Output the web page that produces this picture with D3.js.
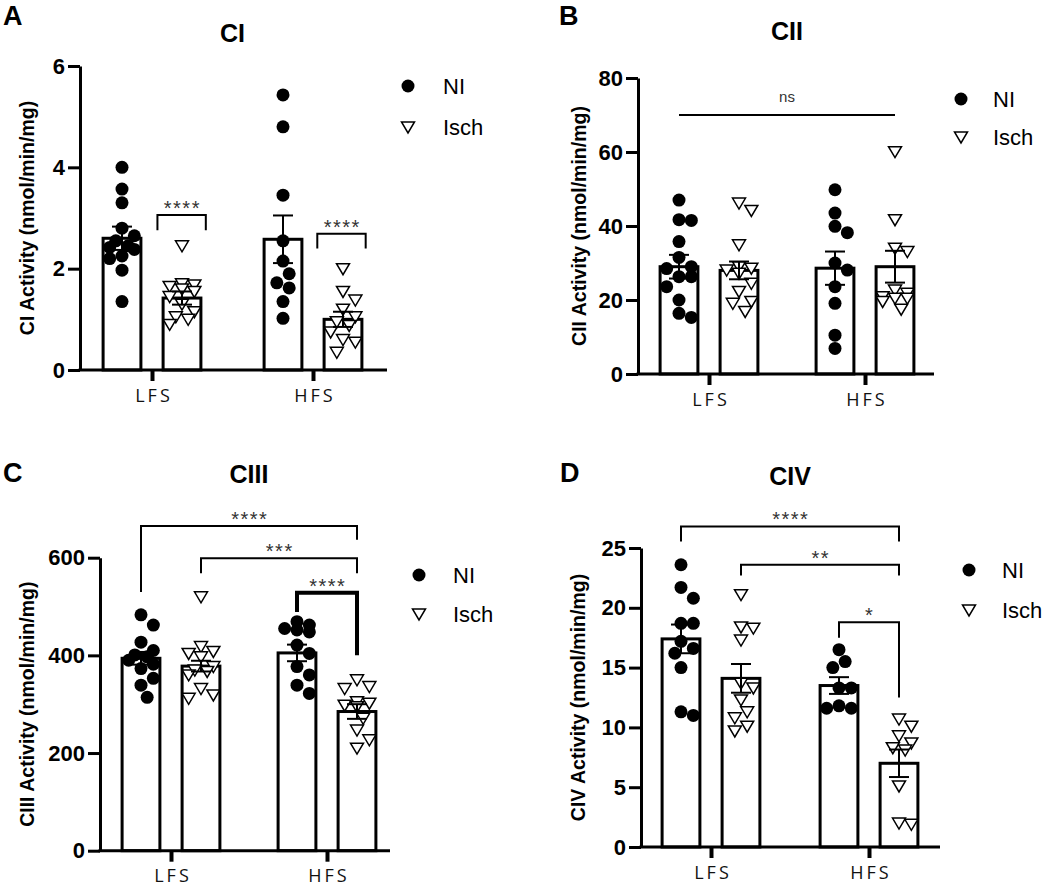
<!DOCTYPE html>
<html><head><meta charset="utf-8">
<script src="https://cdn.jsdelivr.net/npm/d3@7"></script>
<style>body{margin:0;background:#fff}svg{display:block}</style>
</head><body>
<svg id="chart" width="1050" height="886"></svg>
<script>
const groups = ["LFS", "HFS"];
const seriesNames = ["NI", "Isch"];

// ---- Panel A : CI ----
const ciTicks = [0, 2, 4, 6];
const ciMean = [[2.60, 1.42], [2.58, 1.00]];
const ciSem = [[0.23, 0.13], [0.47, 0.15]];
const ciLfsNI = [4.00, 3.57, 3.30, 2.80, 2.65, 2.55, 2.45, 2.42, 2.38, 2.25, 2.20, 1.97, 1.35];
const ciLfsIsch = [2.45, 1.70, 1.68, 1.65, 1.60, 1.55, 1.45, 1.30, 1.15, 1.05, 1.00, 0.90];
const ciHfsNI = [5.43, 4.80, 3.45, 2.55, 2.15, 1.90, 1.72, 1.62, 1.35, 1.02];
const ciHfsIsch = [2.00, 1.55, 1.38, 1.20, 1.05, 0.95, 0.88, 0.75, 0.60, 0.55, 0.35];
const ciComparisons = [
  {from: ["LFS", "Isch", -0.65], to: ["LFS", "Isch", 0.63], y: 3.06, legFrom: 2.76, legTo: 2.76, label: "****"},
  {from: ["HFS", "Isch", -0.68], to: ["HFS", "Isch", 0.60], y: 2.69, legFrom: 2.40, legTo: 2.40, label: "****"}
];

// ---- Panel B : CII ----
const ciiTicks = [0, 20, 40, 60, 80];
const ciiMean = [[29.0, 28.0], [28.6, 29.0]];
const ciiSem = [[3.2, 2.4], [4.5, 4.3]];
const ciiLfsNI = [47.0, 41.7, 41.5, 35.8, 31.5, 29.0, 28.5, 26.3, 26.3, 23.6, 20.0, 16.4, 15.3];
const ciiLfsIsch = [46.2, 44.2, 34.9, 29.0, 28.6, 28.1, 27.2, 24.5, 22.3, 19.6, 19.1, 16.9];
const ciiHfsNI = [49.8, 43.5, 39.9, 38.2, 30.0, 28.1, 23.6, 19.1, 10.5, 6.9];
const ciiHfsIsch = [60.1, 41.7, 34.0, 33.1, 22.7, 21.8, 20.9, 20.5, 20.5, 19.6, 17.5];
const ciiComparisons = [
  {from: ["LFS", "NI", 0], to: ["HFS", "Isch", 0], y: 70, legFrom: 70, legTo: 70, label: "ns"}
];

// ---- Panel C : CIII ----
const ciiiTicks = [0, 200, 400, 600];
const ciiiMean = [[394, 378], [405, 285]];
const ciiiSem = [[13, 11], [17, 15]];
const ciiiLfsNI = [483, 462, 427, 410, 401, 397, 390, 382, 373, 353, 339, 314];
const ciiiLfsIsch = [520, 418, 408, 404, 397, 377, 370, 367, 360, 332, 319, 312];
const ciiiHfsNI = [469, 462, 455, 452, 448, 421, 404, 377, 360, 339, 322];
const ciiiHfsIsch = [350, 336, 332, 305, 302, 298, 295, 271, 247, 227, 210];
const ciiiComparisons = [
  {from: ["LFS", "NI", 0], to: ["HFS", "Isch", 0], y: 665, legFrom: 530, legTo: 637, label: "****"},
  {from: ["LFS", "Isch", 0], to: ["HFS", "Isch", 0], y: 599, legFrom: 568, legTo: 568, label: "***"},
  {from: ["HFS", "NI", 0], to: ["HFS", "Isch", 0], y: 528, legFrom: 489, legTo: 400, label: "****", heavy: true}
];

// ---- Panel D : CIV ----
const civTicks = [0, 5, 10, 15, 20, 25];
const civMean = [[17.4, 14.1], [13.5, 7.0]];
const civSem = [[1.2, 1.2], [0.7, 1.15]];
const civLfsNI = [23.6, 21.7, 20.8, 18.7, 18.7, 17.2, 16.6, 16.2, 15.0, 11.3, 11.0];
const civLfsIsch = [21.1, 18.4, 18.3, 17.3, 13.7, 13.3, 12.3, 11.3, 10.8, 10.1, 9.7];
const civHfsNI = [16.5, 15.5, 15.0, 13.3, 13.3, 11.8, 11.6, 11.6];
const civHfsIsch = [10.7, 10.1, 9.3, 8.7, 8.3, 8.1, 5.1, 2.0, 1.9];
const civComparisons = [
  {from: ["LFS", "NI", 0], to: ["HFS", "Isch", 0], y: 26.8, legFrom: 25.55, legTo: 25.55, label: "****"},
  {from: ["LFS", "Isch", 0], to: ["HFS", "Isch", 0], y: 23.6, legFrom: 22.7, legTo: 22.7, label: "**"},
  {from: ["HFS", "NI", 0], to: ["HFS", "Isch", 0], y: 18.8, legFrom: 17.5, legTo: 12.5, label: "*"}
];

const panels = [
  {letter: "A", title: "CI", ylabel: "CI Activity (nmol/min/mg)", ticks: ciTicks, mean: ciMean, sem: ciSem,
   points: [[ciLfsNI, ciLfsIsch], [ciHfsNI, ciHfsIsch]], comps: ciComparisons,
   L: {ax: 80, yTop: 66, yBot: 370, g0: 152, g1: 313, xEnd: 387, labX: 29, titleY: 42, letX: 3, letY: 25, legX: 408, legY: 86, legDy: 41, legTx: 443}},
  {letter: "B", title: "CII", ylabel: "CII Activity (nmol/min/mg)", ticks: ciiTicks, mean: ciiMean, sem: ciiSem,
   points: [[ciiLfsNI, ciiLfsIsch], [ciiHfsNI, ciiHfsIsch]], comps: ciiComparisons,
   L: {ax: 638, yTop: 78, yBot: 374, g0: 709, g1: 865, xEnd: 934, labX: 581, titleY: 40, letX: 559, letY: 25, legX: 961, legY: 99, legDy: 38, legTx: 993}},
  {letter: "C", title: "CIII", ylabel: "CIII Activity (nmol/min/mg)", ticks: ciiiTicks, mean: ciiiMean, sem: ciiiSem,
   points: [[ciiiLfsNI, ciiiLfsIsch], [ciiiHfsNI, ciiiHfsIsch]], comps: ciiiComparisons,
   L: {ax: 100, yTop: 557.7, yBot: 850.7, g0: 171, g1: 327, xEnd: 390, labX: 29, titleY: 483, letX: 3, letY: 482, legX: 419, legY: 575, legDy: 39, legTx: 453}},
  {letter: "D", title: "CIV", ylabel: "CIV Activity (nmol/min/mg)", ticks: civTicks, mean: civMean, sem: civSem,
   points: [[civLfsNI, civLfsIsch], [civHfsNI, civHfsIsch]], comps: civComparisons,
   L: {ax: 641, yTop: 548, yBot: 847, g0: 711, g1: 869, xEnd: 940, labX: 580, titleY: 485, letX: 560, letY: 482, legX: 969, legY: 570, legDy: 40, legTx: 1002}}
];

const svg = d3.select("#chart");
const R = 6.5;
const triPath = "M-6.5,-5 L6.5,-5 L0,6 Z";

function drawMarker(sel, s, x, y) {
  if (s === "NI") {
    sel.append("circle").attr("cx", x).attr("cy", y).attr("r", R).attr("fill", "#000");
  } else {
    sel.append("path").attr("d", triPath).attr("transform", `translate(${x},${y})`)
      .attr("fill", "#fff").attr("stroke", "#000").attr("stroke-width", 1.5);
  }
}

function swarm(vals, yScale, r, maxOff) {
  const pts = vals.map(v => ({v, y: yScale(v)})).sort((a, b) => a.y - b.y);
  const placed = [];
  const step = r * 0.95;
  for (const p of pts) {
    let best = 0, bestOv = Infinity;
    outer:
    for (let k = 0; k <= 10; k++) {
      for (const s of (k === 0 ? [0] : [k, -k])) {
        const off = s * step;
        if (Math.abs(off) > maxOff) continue;
        let ov = 0;
        for (const q of placed) {
          const d = Math.hypot(q.x - off, q.y - p.y);
          if (d < 2 * r) ov += 2 * r - d;
        }
        if (ov < bestOv - 1e-9) { bestOv = ov; best = off; }
        if (ov === 0) break outer;
      }
    }
    p.x = best;
    placed.push(p);
  }
  return placed;
}

panels.forEach(P => {
  const L = P.L;
  const g = svg.append("g");
  const y = d3.scaleLinear().domain([0, d3.max(P.ticks)]).range([L.yBot, L.yTop]);
  const xg = d3.scalePoint().domain(groups).range([L.g0, L.g1]);
  const xs = d3.scaleBand().domain(seriesNames).range([-60, 60]).paddingInner(0.37).paddingOuter(0.185);
  const bw = xs.bandwidth();
  const cx = (gName, sName) => xg(gName) + xs(sName) + bw / 2;

  // bars
  groups.forEach((gn, gi) => seriesNames.forEach((sn, si) => {
    const m = P.mean[gi][si];
    g.append("rect").attr("x", xg(gn) + xs(sn)).attr("y", y(m))
      .attr("width", bw).attr("height", y(0) - y(m))
      .attr("fill", "#fff").attr("stroke", "#000").attr("stroke-width", 3);
  }));

  // points
  groups.forEach((gn, gi) => seriesNames.forEach((sn, si) => {
    const c = cx(gn, sn);
    swarm(P.points[gi][si], y, R, 18).forEach(p => drawMarker(g, sn, c + p.x, p.y));
  }));

  // error bars
  groups.forEach((gn, gi) => seriesNames.forEach((sn, si) => {
    const c = cx(gn, sn), m = P.mean[gi][si], s = P.sem[gi][si];
    const eb = g.append("g").attr("stroke", "#000").attr("stroke-width", 2);
    eb.append("line").attr("x1", c).attr("x2", c).attr("y1", y(m - s)).attr("y2", y(m + s));
    [m - s, m + s].forEach(v => eb.append("line").attr("x1", c - 10).attr("x2", c + 10).attr("y1", y(v)).attr("y2", y(v)));
  }));

  // y axis
  const ya = g.append("g").attr("transform", `translate(${L.ax},0)`)
    .call(d3.axisLeft(y).tickValues(P.ticks).tickSize(12).tickSizeOuter(0).tickPadding(3).tickFormat(d3.format("d")));
  ya.select(".domain").attr("stroke-width", 3).attr("stroke", "#000");
  ya.selectAll(".tick line").attr("stroke-width", 3).attr("stroke", "#000");
  ya.selectAll(".tick text").attr("font-family", "Liberation Sans, Arial, sans-serif")
    .attr("font-weight", "bold").attr("font-size", 22).attr("fill", "#000");

  // x axis
  g.append("line").attr("x1", L.ax - 1.5).attr("x2", L.xEnd).attr("y1", y(0)).attr("y2", y(0))
    .attr("stroke", "#000").attr("stroke-width", 3);
  const xa = g.append("g").attr("transform", `translate(0,${y(0)})`)
    .call(d3.axisBottom(xg).tickSize(11).tickPadding(8));
  xa.select(".domain").remove();
  xa.selectAll(".tick line").attr("stroke-width", 4).attr("stroke", "#000");
  xa.selectAll(".tick text").attr("font-family", "Open Sans, DejaVu Sans, sans-serif")
    .attr("font-size", 18).attr("letter-spacing", "3px").attr("fill", "#111")
    .attr("dx", "1.5px");

  // y label
  g.append("text").attr("transform", `translate(${L.labX},${(L.yTop + L.yBot) / 2}) rotate(-90)`)
    .attr("text-anchor", "middle").attr("dominant-baseline", "middle")
    .attr("font-family", "Liberation Sans, Arial, sans-serif").attr("font-weight", "bold")
    .attr("font-size", 19.5).text(P.ylabel);

  // title
  g.append("text").attr("x", (L.g0 + L.g1) / 2).attr("y", L.titleY).attr("text-anchor", "middle")
    .attr("font-family", "Liberation Sans, Arial, sans-serif").attr("font-weight", "bold")
    .attr("font-size", 25).text(P.title);

  // panel letter
  g.append("text").attr("x", L.letX).attr("y", L.letY)
    .attr("font-family", "Liberation Sans, Arial, sans-serif").attr("font-weight", "bold")
    .attr("font-size", 27).text(P.letter);

  // comparisons
  P.comps.forEach(cm => {
    const x1 = cx(cm.from[0], cm.from[1]) + cm.from[2] * bw;
    const x2 = cx(cm.to[0], cm.to[1]) + cm.to[2] * bw;
    const yy = y(cm.y);
    const sw = cm.heavy ? 4 : 2;
    g.append("path")
      .attr("d", `M${x1},${y(cm.legFrom)} L${x1},${yy} L${x2},${yy} L${x2},${y(cm.legTo)}`)
      .attr("fill", "none").attr("stroke", "#000").attr("stroke-width", sw);
    if (cm.label === "ns") {
      g.append("text").attr("x", (x1 + x2) / 2).attr("y", yy - 13).attr("text-anchor", "middle")
        .attr("font-family", "Liberation Sans, Arial, sans-serif").attr("font-size", 15)
        .attr("fill", "#333").text(cm.label);
    } else {
      g.append("text").attr("x", (x1 + x2) / 2 + 0.75).attr("y", yy + 0).attr("text-anchor", "middle")
        .attr("font-family", "Liberation Sans, Arial, sans-serif").attr("font-size", 20)
        .attr("letter-spacing", "1.5px").attr("fill", "#333").text(cm.label);
    }
  });

  // legend
  seriesNames.forEach((sn, i) => {
    const ly = L.legY + i * L.legDy;
    drawMarker(g, sn, L.legX, ly);
    g.append("text").attr("x", L.legTx).attr("y", ly + 8)
      .attr("font-family", "Liberation Sans, Arial, sans-serif").attr("font-size", 22)
      .attr("fill", "#000").text(sn);
  });
});
</script>
</body></html>
